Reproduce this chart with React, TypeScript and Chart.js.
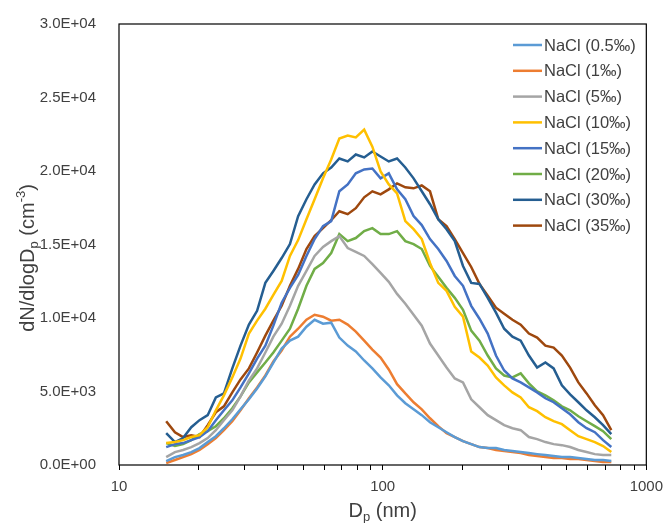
import React, { useEffect, useRef } from "react";
import { Chart, registerables } from "chart.js";

Chart.register(...registerables);

const diameters = [15.1, 16.3, 17.5, 18.8, 20.2, 21.7, 23.3, 25.0, 26.9, 28.9, 31.1, 33.4, 35.9, 38.5, 41.4, 44.5, 47.8, 51.4, 55.2, 59.4, 63.8, 68.5, 73.7, 79.1, 85.1, 91.4, 98.2, 105.5, 113.4, 121.9, 131.0, 140.7, 151.2, 162.5, 174.7, 187.7, 201.7, 216.7, 232.9, 250.3, 269.0, 289.0, 310.6, 333.8, 358.7, 385.4, 414.2, 445.1, 478.3, 514.0, 552.3, 593.5, 637.8, 685.4, 736.5];

const nacl05 = [270, 540, 680, 880, 1150, 1560, 1960, 2500, 3110, 3790, 4470, 5210, 6030, 6970, 7920, 8460, 8730, 9410, 9880, 9610, 9680, 8670, 8120, 7720, 7110, 6570, 5960, 5420, 4740, 4200, 3790, 3390, 2910, 2570, 2230, 1900, 1620, 1420, 1220, 1150, 1150, 1020, 950, 880, 810, 740, 680, 610, 540, 540, 470, 410, 340, 340, 270];
const nacl1 = [140, 340, 540, 740, 1020, 1420, 1830, 2370, 2980, 3720, 4540, 5280, 6090, 7040, 7790, 8730, 9270, 9880, 10220, 10090, 9820, 9880, 9550, 9070, 8460, 7850, 7310, 6500, 5500, 4870, 4270, 3790, 3180, 2640, 2170, 1900, 1620, 1420, 1220, 1150, 1020, 950, 880, 810, 680, 610, 540, 470, 470, 410, 410, 340, 270, 200, 200];
const nacl5 = [540, 880, 1020, 1220, 1490, 1830, 2370, 3050, 3720, 4670, 5750, 6570, 7650, 8730, 9610, 10830, 12190, 13200, 14220, 14830, 15230, 15570, 14760, 14490, 14220, 13670, 13070, 12460, 11640, 10970, 10220, 9480, 8260, 7450, 6630, 5890, 5620, 4470, 3930, 3390, 3050, 2710, 2500, 2370, 1900, 1760, 1560, 1420, 1350, 1220, 1020, 880, 740, 680, 680];
const nacl10 = [1490, 1560, 1690, 1900, 2030, 2570, 3720, 4740, 5960, 7240, 8940, 9820, 10630, 11580, 12520, 14220, 15300, 16720, 18080, 19500, 20780, 22210, 22410, 22280, 22810, 21660, 19970, 19090, 18480, 16590, 16040, 15370, 13740, 12390, 11850, 10760, 10090, 7720, 7310, 6770, 5960, 5420, 4940, 4600, 3930, 3660, 3250, 2980, 2780, 2370, 1960, 1760, 1560, 1290, 880];
const nacl15 = [1220, 1420, 1490, 1690, 1900, 2300, 3050, 3720, 4400, 5280, 6230, 7240, 8120, 9480, 11040, 12050, 12930, 14220, 15370, 16250, 16590, 18620, 19090, 19840, 20110, 20170, 19500, 19840, 18750, 18080, 16930, 16320, 15370, 14690, 13880, 12860, 12190, 10830, 9950, 8940, 7450, 6430, 5890, 5620, 5280, 4940, 4540, 4270, 3860, 3450, 2910, 2500, 2230, 1690, 1220];
const nacl20 = [1490, 1290, 1420, 1690, 2100, 2300, 2640, 3180, 3860, 4670, 5620, 6300, 6970, 7650, 8460, 9270, 10630, 12190, 13340, 13740, 14420, 15710, 15230, 15440, 15910, 16110, 15710, 15710, 15910, 15230, 15030, 14690, 13540, 12800, 12050, 11370, 10560, 9140, 8460, 7450, 6570, 6090, 5960, 6230, 5550, 5010, 4740, 4400, 3990, 3720, 3320, 2980, 2640, 2300, 1760];
const nacl30 = [2170, 1560, 1830, 2570, 3050, 3390, 4600, 4870, 6570, 8120, 9550, 10490, 12390, 13200, 14080, 15030, 16930, 18080, 19090, 19840, 20240, 20850, 20650, 21120, 20920, 21330, 20990, 20650, 20850, 20240, 19500, 18620, 17740, 16720, 16040, 15230, 13540, 12390, 12320, 11370, 10360, 9270, 8730, 8460, 7450, 6630, 6970, 6570, 5420, 4810, 4270, 3720, 3250, 2710, 2100];
const nacl35 = [2980, 2230, 1900, 2030, 1900, 2710, 3590, 3990, 4940, 5820, 6570, 7650, 8800, 9820, 10830, 12190, 13340, 14690, 15570, 16110, 16650, 17260, 17060, 17470, 18210, 18620, 18410, 18750, 19160, 18890, 18820, 19020, 18620, 16720, 16250, 15370, 14420, 13470, 12320, 11510, 10700, 10290, 9880, 9550, 8940, 8670, 8120, 7990, 7450, 6630, 5620, 4870, 4060, 3390, 2370];

const seriesLabels = ["NaCl (0.5‰)", "NaCl (1‰)", "NaCl (5‰)", "NaCl (10‰)", "NaCl (15‰)", "NaCl (20‰)", "NaCl (30‰)", "NaCl (35‰)"];
const seriesValues = [nacl05, nacl1, nacl5, nacl10, nacl15, nacl20, nacl30, nacl35];
const seriesColors = ["#5B9BD5", "#ED7D31", "#A5A5A5", "#FFC000", "#4472C4", "#70AD47", "#255E91", "#9E480E"];

const xMajorTicks = [10, 100, 1000];
const yMin = 0;
const yMax = 30000;
const yStep = 5000;

const FONT = "'Liberation Sans', Arial, sans-serif";
const TEXT_COLOR = "#404040";

function sci(v: number): string {
  if (v === 0) return "0.0E+00";
  const e = Math.floor(Math.log10(Math.abs(v)) + 1e-9);
  const m = v / Math.pow(10, e);
  const es = (e >= 0 ? "+" : "-") + String(Math.abs(e)).padStart(2, "0");
  return m.toFixed(1) + "E" + es;
}

type Part = { t: string; mode?: "sub" | "sup" };

function drawRich(ctx: CanvasRenderingContext2D, parts: Part[], cx: number, cy: number, size: number) {
  const small = Math.round(size * 0.65);
  let total = 0;
  const widths: number[] = [];
  for (const p of parts) {
    ctx.font = `${p.mode ? small : size}px ${FONT}`;
    const w = ctx.measureText(p.t).width;
    widths.push(w);
    total += w;
  }
  let x = cx - total / 2;
  ctx.textBaseline = "middle";
  ctx.textAlign = "left";
  parts.forEach((p, i) => {
    ctx.font = `${p.mode ? small : size}px ${FONT}`;
    let dy = 0;
    if (p.mode === "sub") dy = size * 0.3;
    if (p.mode === "sup") dy = -size * 0.32;
    ctx.fillText(p.t, x, cy + dy);
    x += widths[i];
  });
}

const overlayPlugin = {
  id: "overlay",
  afterDraw(chart: any) {
    const ctx: CanvasRenderingContext2D = chart.ctx;
    const a = chart.chartArea;
    ctx.save();
    ctx.strokeStyle = "#000000";
    ctx.lineWidth = 1.2;
    ctx.strokeRect(a.left, a.top, a.right - a.left, a.bottom - a.top);

    // legend
    chart.data.datasets.forEach((ds: any, i: number) => {
      const y = 45 + i * 25.8;
      ctx.strokeStyle = ds.borderColor;
      ctx.lineWidth = 2.5;
      ctx.beginPath();
      ctx.moveTo(513, y);
      ctx.lineTo(542, y);
      ctx.stroke();
      ctx.fillStyle = TEXT_COLOR;
      ctx.font = `16.5px ${FONT}`;
      ctx.textBaseline = "middle";
      ctx.textAlign = "left";
      ctx.fillText(ds.label, 544, y + 1);
    });

    ctx.fillStyle = TEXT_COLOR;
    // x title
    drawRich(ctx, [{ t: "D" }, { t: "p", mode: "sub" }, { t: " (nm)" }], (a.left + a.right) / 2, 511, 20);
    // y title
    ctx.save();
    ctx.translate(28, 258);
    ctx.rotate(-Math.PI / 2);
    drawRich(ctx, [{ t: "dN/dlogD" }, { t: "p", mode: "sub" }, { t: " (cm" }, { t: "-3", mode: "sup" }, { t: ")" }], 0, 0, 20);
    ctx.restore();
    ctx.restore();
  },
};

export default function App() {
  const canvasRef = useRef<HTMLCanvasElement | null>(null);

  useEffect(() => {
    if (!canvasRef.current) return;
    const datasets = seriesValues.map((vals, i) => ({
      label: seriesLabels[i],
      data: vals.map((v, j) => ({ x: diameters[j], y: v })),
      borderColor: seriesColors[i],
      backgroundColor: seriesColors[i],
      borderWidth: 2.5,
      pointRadius: 0,
      tension: 0,
      fill: false,
    }));
    const chart = new Chart(canvasRef.current, {
      type: "line",
      data: { datasets },
      options: {
        animation: false,
        responsive: false,
        maintainAspectRatio: false,
        layout: { padding: { top: 22, right: 24, left: 0, bottom: 0 } },
        plugins: { legend: { display: false }, tooltip: { enabled: false } },
        scales: {
          x: {
            type: "logarithmic",
            min: 10,
            max: 1000,
            border: { display: false },
            grid: { display: true, drawOnChartArea: false, drawTicks: true, tickLength: 5, color: "#000000", lineWidth: 1 },
            ticks: {
              autoSkip: false,
              maxRotation: 0,
              padding: 8,
              color: TEXT_COLOR,
              font: { family: FONT, size: 15 },
              callback: (v: any) => (xMajorTicks.includes(Number(v)) ? String(Number(v)) : ""),
            },
            afterFit: (scale: any) => {
              scale.height = 58;
            },
          },
          y: {
            type: "linear",
            min: yMin,
            max: yMax,
            border: { display: false },
            grid: { display: false },
            ticks: {
              stepSize: yStep,
              padding: 15,
              color: TEXT_COLOR,
              font: { family: FONT, size: 15 },
              callback: (v: any) => sci(Number(v)),
            },
            afterFit: (scale: any) => {
              scale.width = 119;
            },
          },
        },
      },
      plugins: [overlayPlugin],
    } as any);
    return () => chart.destroy();
  }, []);

  return (
    <div style={{ position: "absolute", left: 0, top: 0, width: 671, height: 523, background: "#ffffff" }}>
      <canvas ref={canvasRef} width={671} height={523} style={{ display: "block" }} />
    </div>
  );
}
